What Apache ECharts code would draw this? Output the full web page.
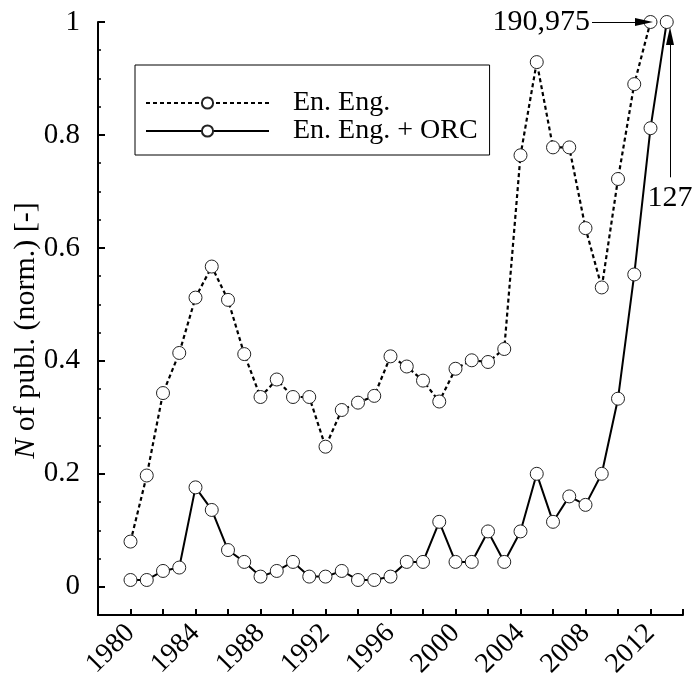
<!DOCTYPE html>
<html>
<head>
<meta charset="utf-8">
<script src="https://cdn.jsdelivr.net/npm/echarts@6/dist/echarts.min.js"></script>
<style>
  html, body { margin: 0; padding: 0; background: #fff; }
  #chart { width: 693px; height: 679px; }
</style>
</head>
<body>
<div id="chart"></div>
<script>
// normalised publication counts
const enEngYears = [1980, 1981, 1982, 1983, 1984, 1985, 1986, 1987, 1988, 1989,
  1990, 1991, 1992, 1993, 1994, 1995, 1996, 1997, 1998, 1999,
  2000, 2001, 2002, 2003, 2004, 2005, 2006, 2007, 2008, 2009,
  2010, 2011, 2012];
const enEng = [0.08, 0.197, 0.343, 0.414, 0.512, 0.567, 0.508, 0.412, 0.336, 0.367,
  0.336, 0.336, 0.248, 0.313, 0.326, 0.338, 0.408, 0.39, 0.365, 0.328,
  0.386, 0.401, 0.398, 0.421, 0.764, 0.929, 0.778, 0.778, 0.635, 0.53,
  0.722, 0.89, 1.0];

const orcYears = enEngYears.concat([2013]);
const enEngOrc = [0.012, 0.012, 0.028, 0.034, 0.176, 0.136, 0.065, 0.044, 0.018, 0.028,
  0.044, 0.018, 0.018, 0.028, 0.012, 0.012, 0.018, 0.044, 0.044, 0.115,
  0.044, 0.044, 0.098, 0.044, 0.098, 0.2, 0.115, 0.16, 0.145, 0.2,
  0.333, 0.553, 0.812, 1.0];

const yTickLabels = [0, 0.2, 0.4, 0.6, 0.8, 1];
const xLabelStep = 4;

// annotation texts (absolute counts at the normalisation maxima)
const maxEnEngLabel = '190,975';
const maxOrcLabel = '127';

const font = 'Liberation Serif';

const chart = echarts.init(document.getElementById('chart'));

const symbolStyle = {
  color: '#fff',
  borderColor: '#222',
  borderWidth: 1
};

chart.setOption({
  animation: false,
  textStyle: { fontFamily: font, color: '#000' },
  grid: { left: 98, right: 10, top: 22, bottom: 64, outerBoundsMode: 'none' },
  legend: {
    orient: 'vertical',
    left: 135,
    top: 65,
    padding: [24, 12, 10, 10],
    itemWidth: 123,
    itemHeight: 14,
    itemGap: 0,
    borderColor: '#000',
    borderWidth: 1,
    textStyle: { fontFamily: font, fontSize: 28, color: '#000', padding: [0, 0, 0, 19] },
    data: ['En. Eng.', 'En. Eng. + ORC']
  },
  xAxis: {
    type: 'value',
    min: 1978,
    max: 2014,
    interval: 2,
    splitLine: { show: false },
    axisLine: { onZero: false, lineStyle: { color: '#000', width: 2 } },
    axisTick: { inside: true, length: 6, lineStyle: { color: '#000', width: 2 } },
    axisLabel: {
      rotate: 45,
      margin: 14,
      fontFamily: font,
      fontSize: 28,
      color: '#000',
      formatter: function (v) {
        if (v < 1980 || v > 2012 || (v - 1980) % xLabelStep !== 0) return '';
        return String(v);
      }
    }
  },
  yAxis: [
    {
      type: 'value',
      min: -0.05,
      max: 1,
      interval: 0.05,
      splitLine: { show: false },
      axisLine: { show: true, lineStyle: { color: '#000', width: 2 } },
      axisTick: { inside: true, length: 3, lineStyle: { color: '#000', width: 1.5 } },
      axisLabel: {
        margin: 18,
        fontFamily: font,
        fontSize: 29,
        color: '#000',
        formatter: function (v) {
          const r = Math.round(v * 100) / 100;
          return yTickLabels.indexOf(r) >= 0 ? String(r) : '';
        }
      },
      name: '{i|N} of publ. (norm.) [-]',
      nameLocation: 'middle',
      nameGap: 57,
      nameMoveOverlap: false,
      nameRotate: 90,
      nameTextStyle: {
        fontFamily: font,
        fontSize: 30,
        color: '#000',
        padding: [0, 24, 0, 0],
        rich: { i: { fontFamily: font, fontSize: 30, fontStyle: 'italic', color: '#000' } }
      }
    },
    {
      type: 'value',
      min: -0.05,
      max: 1,
      position: 'left',
      splitLine: { show: false },
      axisLine: { show: false },
      axisLabel: { show: false },
      axisTick: {
        show: true,
        inside: true,
        length: 7,
        customValues: yTickLabels,
        lineStyle: { color: '#000', width: 2 }
      }
    }
  ],
  series: [
    {
      name: 'En. Eng.',
      type: 'line',
      data: enEngYears.map((y, i) => [y, enEng[i]]),
      symbol: 'circle',
      symbolSize: 13,
      itemStyle: symbolStyle,
      lineStyle: { color: '#000', width: 2.2, type: [4, 3] },
      z: 3,
      markLine: {
        silent: true,
        symbol: ['none', 'triangle'],
        symbolSize: [8, 18],
        lineStyle: { color: '#000', width: 1, type: 'solid' },
        label: {
          position: 'start',
          distance: 2,
          fontFamily: font,
          fontSize: 30,
          color: '#000',
          formatter: maxEnEngLabel
        },
        data: [[{ coord: [2008.4, 1.0] }, { coord: [2011.6, 1.0] }]]
      }
    },
    {
      name: 'En. Eng. + ORC',
      type: 'line',
      data: orcYears.map((y, i) => [y, enEngOrc[i]]),
      symbol: 'circle',
      symbolSize: 13,
      itemStyle: symbolStyle,
      lineStyle: { color: '#000', width: 2, type: 'solid' },
      z: 4,
      markLine: {
        silent: true,
        symbol: ['none', 'triangle'],
        symbolSize: [8, 18],
        lineStyle: { color: '#000', width: 1, type: 'solid' },
        label: {
          position: 'start',
          distance: 6,
          fontFamily: font,
          fontSize: 30,
          color: '#000',
          formatter: maxOrcLabel
        },
        data: [[{ coord: [2013.2, 0.725] }, { coord: [2013.2, 0.975] }]]
      }
    }
  ]
});
</script>
</body>
</html>
